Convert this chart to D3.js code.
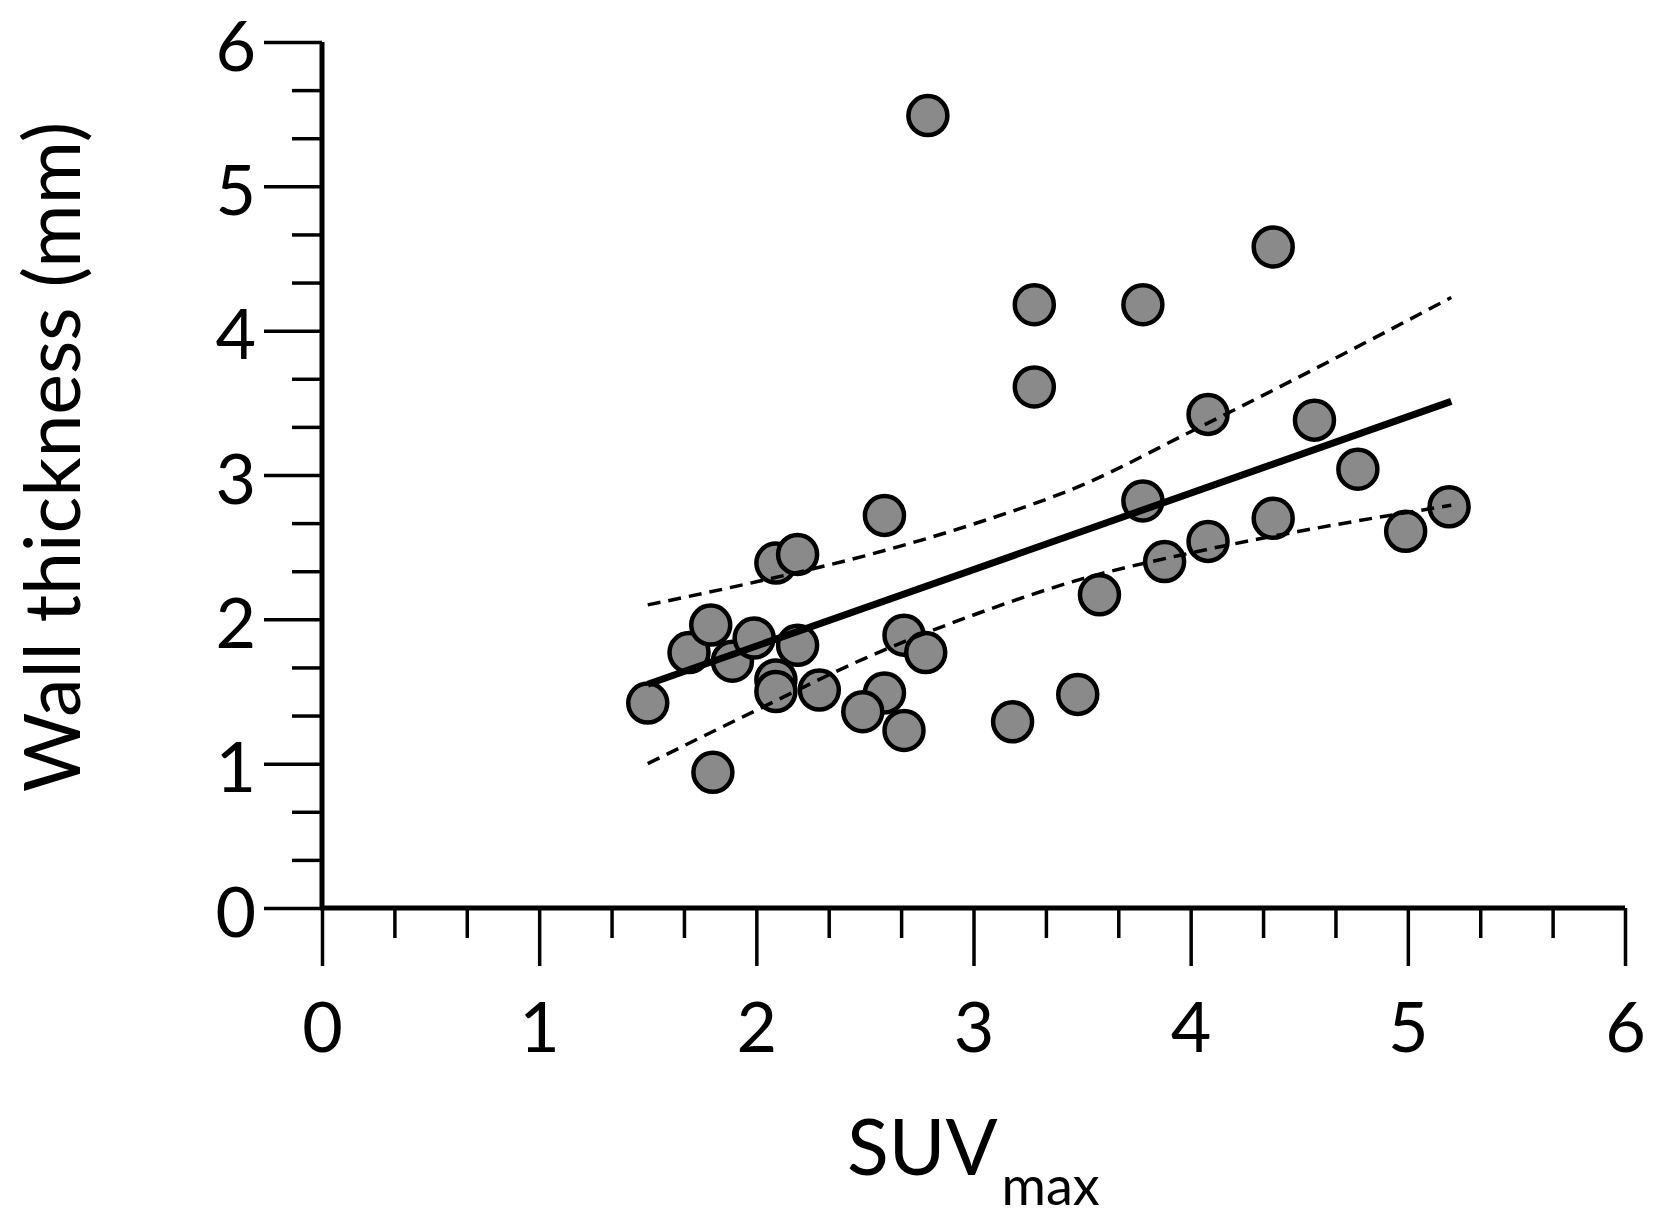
<!DOCTYPE html>
<html>
<head>
<meta charset="utf-8">
<script src="https://cdn.jsdelivr.net/npm/d3@7"></script>
<style>
	body { margin: 0; background: #fff; }
	text { font-family: Lato, "Open Sans", sans-serif; fill: #000; }
</style>
</head>
<body>
<div id="root"></div>
<script>
// measured points: SUVmax vs wall thickness (mm)
const suv = [1.50, 1.69, 1.79, 1.89, 1.99, 2.09, 2.19, 2.19, 2.09, 2.09, 2.29, 2.59, 2.68, 2.59, 2.49, 2.68, 2.78, 1.80,
	2.79, 3.28, 3.78, 3.28, 4.08, 4.57, 4.77, 3.78, 4.38, 4.08, 3.88, 3.58, 3.48, 3.18, 4.38, 5.19, 4.99]
const wall = [1.42, 1.77, 1.96, 1.71, 1.87, 2.39, 2.45, 1.82, 1.58, 1.50, 1.51, 2.72, 1.89, 1.49, 1.36, 1.23, 1.77, 0.94,
	5.49, 4.18, 4.18, 3.61, 3.42, 3.38, 3.04, 2.82, 2.70, 2.54, 2.40, 2.17, 1.48, 1.29, 4.58, 2.78, 2.61]

// regression line end points and confidence band
const fitX = [1.50, 5.20]
const fitY = [1.55, 3.51]
const bandX = [1.5, 2.0, 2.5, 3.0, 3.5, 4.0, 4.5, 5.2]
const bandUpper = [2.10, 2.26, 2.44, 2.66, 2.93, 3.30, 3.68, 4.23]
const bandLower = [1.00, 1.37, 1.73, 2.03, 2.28, 2.46, 2.61, 2.79]

const majorTicks = [0, 1, 2, 3, 4, 5, 6]
const minorTicks = d3.range(0, 18).filter(i => i % 3 != 0).map(i => i / 3)

const C = {
	width: 1653,
	height: 1223,
	left: 322,
	right: 1625,
	top: 42,
	bottom: 908,
	major: 58,
	minor: 30,
	fontSize: 70,
}

const svg = d3.select('#root').append('svg')
	.attr('width', C.width)
	.attr('height', C.height)

const x = d3.scaleLinear().domain([0, 6]).range([C.left, C.right])
const y = d3.scaleLinear().domain([0, 6]).range([C.bottom, C.top])

// -- points --
svg.append('g').selectAll('circle')
	.data(suv.map((d, i) => [d, wall[i]]))
	.enter()
	.append('circle')
	.attr('cx', d => x(d[0]))
	.attr('cy', d => y(d[1]))
	.attr('r', 19.5)
	.attr('fill', '#8a8a8a')
	.attr('stroke', '#000')
	.attr('stroke-width', 4.5)

// -- lines --
const line = d3.line().x(d => x(d[0])).y(d => y(d[1])).curve(d3.curveMonotoneX)

svg.append('path')
	.attr('d', line(fitX.map((d, i) => [d, fitY[i]])))
	.attr('fill', 'none')
	.attr('stroke', '#000')
	.attr('stroke-width', 7)

;[bandUpper, bandLower].forEach(band => {
	svg.append('path')
		.attr('d', line(bandX.map((d, i) => [d, band[i]])))
		.attr('fill', 'none')
		.attr('stroke', '#000')
		.attr('stroke-width', 3.5)
		.attr('stroke-dasharray', '13,8')
})

// -- axis --
function styleAxis(g) {
	g.select('.domain').remove()
	g.selectAll('line').attr('stroke', '#000').attr('stroke-width', 3.5)
	g.selectAll('text').attr('font-size', C.fontSize)
}

svg.append('g')
	.attr('transform', `translate(${C.left},0)`)
	.call(d3.axisLeft(y).tickValues(minorTicks).tickSize(C.minor).tickFormat(''))
	.call(styleAxis)

svg.append('g')
	.attr('transform', `translate(${C.left},0)`)
	.call(d3.axisLeft(y).tickValues(majorTicks).tickSize(C.major).tickPadding(8).tickFormat(d3.format('d')))
	.call(styleAxis)
	.call(g => g.selectAll('text').attr('dy', '0.4em'))

svg.append('g')
	.attr('transform', `translate(0,${C.bottom})`)
	.call(d3.axisBottom(x).tickValues(minorTicks).tickSize(C.minor).tickFormat(''))
	.call(styleAxis)

svg.append('g')
	.attr('transform', `translate(0,${C.bottom})`)
	.call(d3.axisBottom(x).tickValues(majorTicks).tickSize(C.major).tickPadding(36).tickFormat(d3.format('d')))
	.call(styleAxis)

// axis lines
svg.append('line')
	.attr('x1', C.left).attr('x2', C.left)
	.attr('y1', C.top).attr('y2', C.bottom + 2)
	.attr('stroke', '#000').attr('stroke-width', 5)
svg.append('line')
	.attr('x1', C.left - 2).attr('x2', C.right)
	.attr('y1', C.bottom).attr('y2', C.bottom)
	.attr('stroke', '#000').attr('stroke-width', 5)

// -- titles --
const xTitle = svg.append('text')
	.attr('x', 847)
	.attr('y', 1175)
	.attr('font-size', 77)
xTitle.append('tspan').text('SUV')
xTitle.append('tspan').attr('dx', 4).attr('dy', 30).attr('font-size', 54).text('max')

svg.append('text')
	.attr('transform', 'translate(80,457) rotate(-90)')
	.attr('text-anchor', 'middle')
	.attr('font-size', 77)
	.text('Wall thickness (mm)')
</script>
</body>
</html>
